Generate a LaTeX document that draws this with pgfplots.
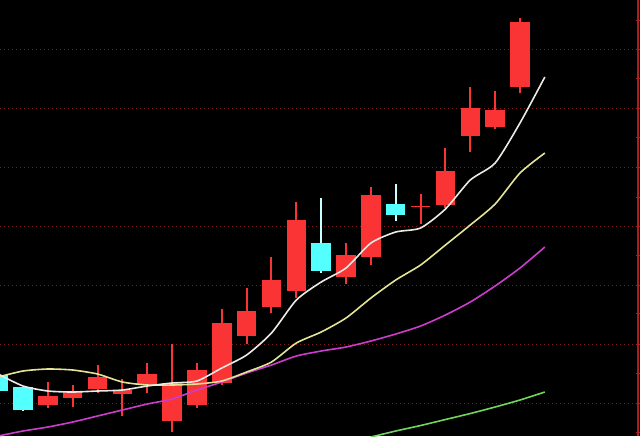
\documentclass[border=0pt]{standalone}
\usepackage{pgfplots}
\usepackage{pgfplotstable}
\pgfplotsset{compat=1.18}
\definecolor{candred}{RGB}{250,52,52}
\definecolor{candcyan}{RGB}{84,255,255}
\definecolor{wickcyan}{RGB}{200,255,255}
\definecolor{gridred}{RGB}{125,28,28}
\definecolor{axisred}{RGB}{175,30,30}
\definecolor{maw}{RGB}{235,235,230}
\definecolor{may}{RGB}{228,228,150}
\definecolor{map}{RGB}{205,60,205}
\definecolor{mag}{RGB}{110,215,90}

% up (red) candles: k open close high low
\pgfplotstableread{
k o c h l
2 31 40 54 28
3 38 45 51 29
4 47 59 71 43
5 42 46 57 20
6 51 62 73 43
7 15 53 92 4
8 31 66 73 28
9 53 113 127 51
10 100 125 148 92
11 129 156 179 123
12 145 216 234 138
14 159 181 193 152
15 179 241 249 171
17 229 230.5 242 212
18 231 265 288 228
19 300 328 349 284
20 309 326 345 307
21 349 414 418 343
}\upcandles

% down (cyan) candles
\pgfplotstableread{
k o c h l
0 61 45 64 41
1 49 26 49 25
13 193 165 238 163
16 232 221 252 215
}\downcandles

% moving averages
\pgfplotstableread{
k w y p
0 62 59 0
1 50 65 5
2 45 67 9
3 44 66 14
4 45 62 20
5 46 54 26
6 50 51 32
7 53 51 37
8 55 52 46
9 68 55 54
10 81 64 63
11 103 74 71
12 136 93 80
13 154 104 85
14 168 118 89
15 193 138 95
16 204 156 102
17 208 171 110
18 227 191 121
19 256 211 134
20 273 232 150
21 313 263 168
22 359 283 189
}\mas

\pgfplotstableread{
k g
15 -1
16 5
17 10.5
18 16.5
19 22.5
20 29
21 36
22 44
}\magreen

\pgfplotsset{
  candle/.style 2 args={draw=none, mark=none,
    error bars/.cd, y dir=both, y explicit, error mark=none,
    error bar style={solid, line width=#1, draw=#2}},
}

\begin{document}
\begin{tikzpicture}
\begin{axis}[name=ax,
  width=320pt, height=218pt, scale only axis,
  xmin=0.0744, xmax=25.83, ymin=0, ymax=436,
  axis background/.style={fill=black},
  axis line style={draw=none},
  xtick=\empty, ytick=\empty,
  clip=true]
\pgfplotsinvokeforeach{33,92,151,210,269,328,387}{
  \draw[gridred, line width=0.5pt, dash pattern=on 0.5pt off 1.5pt]
    (axis cs:0.0744,#1) -- (axis cs:25.55,#1);
}
% wicks
\addplot[candle={1pt}{candred}]
  table[x=k, y expr=(\thisrow{h}+\thisrow{l})/2, y error expr=(\thisrow{h}-\thisrow{l})/2] {\upcandles};
\addplot[candle={1pt}{wickcyan}]
  table[x=k, y expr=(\thisrow{h}+\thisrow{l})/2, y error expr=(\thisrow{h}-\thisrow{l})/2] {\downcandles};
% bodies
\addplot[candle={9.75pt}{candred}]
  table[x=k, y expr=(\thisrow{o}+\thisrow{c})/2, y error expr=abs(\thisrow{c}-\thisrow{o})/2] {\upcandles};
\addplot[candle={9.75pt}{candcyan}]
  table[x=k, y expr=(\thisrow{o}+\thisrow{c})/2, y error expr=abs(\thisrow{c}-\thisrow{o})/2] {\downcandles};
% moving averages
\addplot[map, solid, line width=0.8pt, smooth, tension=0.4, mark=none] table[x=k, y=p] {\mas};
\addplot[may, solid, line width=0.8pt, smooth, tension=0.4, mark=none] table[x=k, y=y] {\mas};
\addplot[maw, solid, line width=0.8pt, smooth, tension=0.4, mark=none] table[x=k, y=w] {\mas};
\addplot[mag, solid, line width=0.8pt, smooth, tension=0.4, mark=none] table[x=k, y=g] {\magreen};
% right axis
\draw[axisred, line width=0.6pt] (axis cs:25.75,0) -- (axis cs:25.75,436);
\pgfplotsinvokeforeach{4,33,63,92,123,151,181,210,239,269,299,328,358,387,416}{
  \draw[axisred, line width=0.5pt] (axis cs:25.67,#1) -- (axis cs:25.83,#1);
}
\end{axis}
\pgfresetboundingbox
\path (ax.south west) rectangle (ax.north east);
\end{tikzpicture}
\end{document}
